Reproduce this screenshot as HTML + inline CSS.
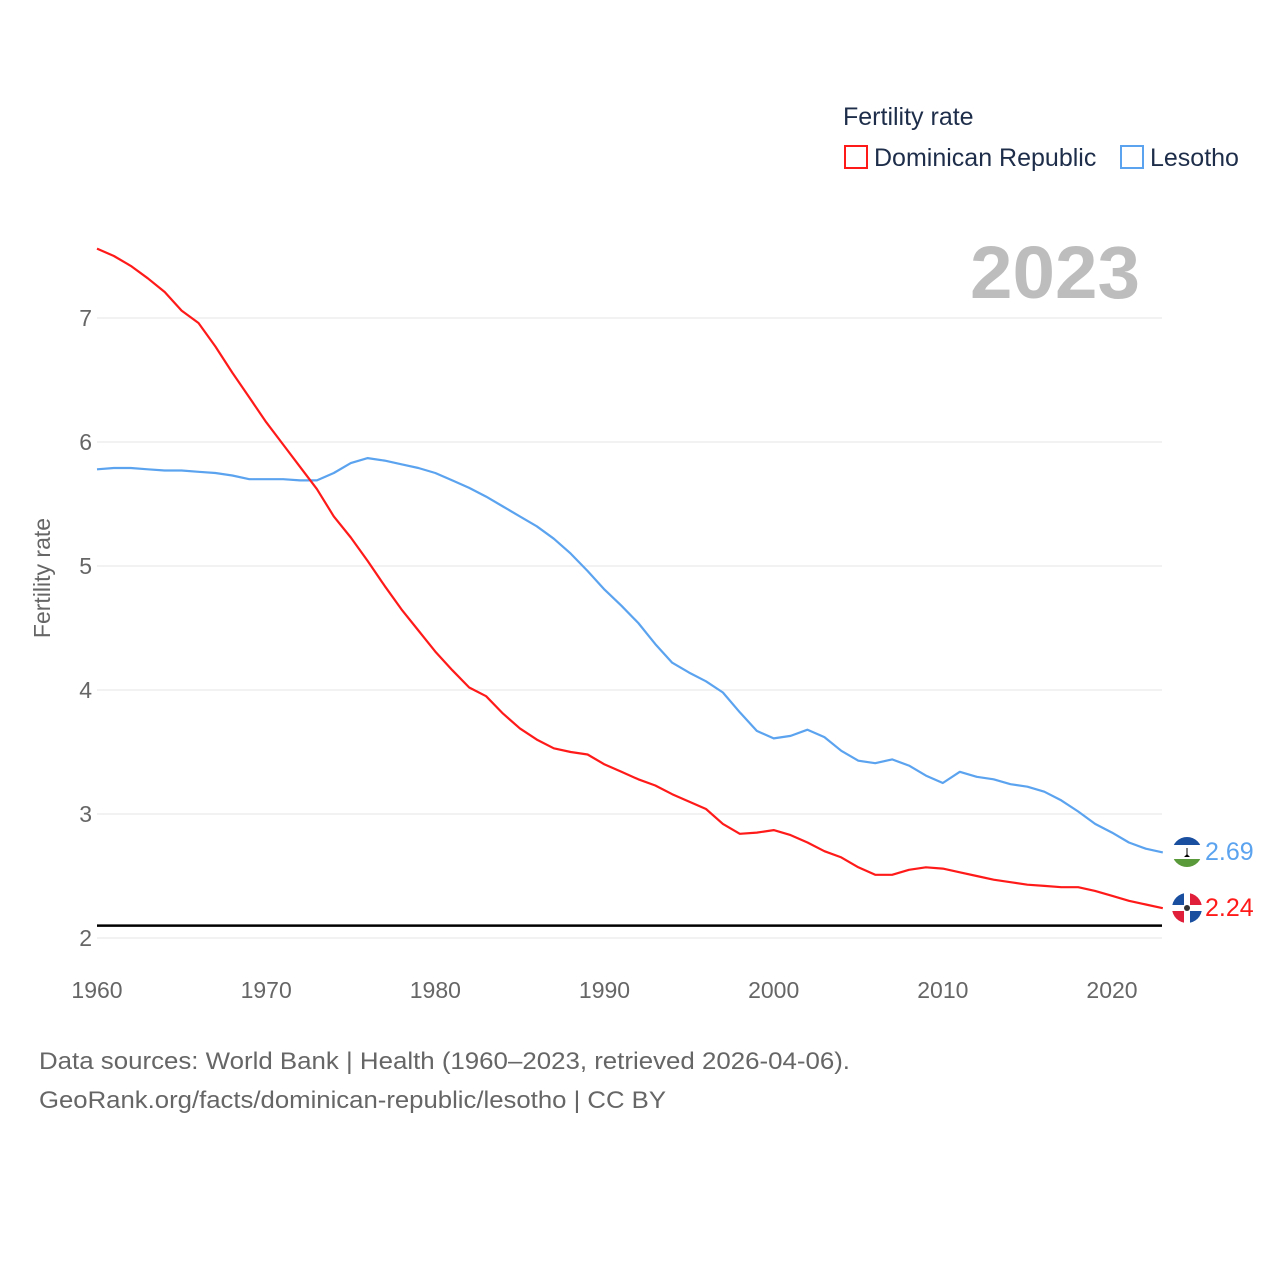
<!DOCTYPE html>
<html><head><meta charset="utf-8"><style>
body{margin:0;background:#fff;font-family:"Liberation Sans",sans-serif}
svg text{font-family:"Liberation Sans",sans-serif}
</style></head><body>
<svg width="1280" height="1280" viewBox="0 0 1280 1280">
<g id="grid"></g>
<g id="lines"></g>
<text x="970" y="298" textLength="170" lengthAdjust="spacingAndGlyphs" font-size="74" font-weight="bold" fill="#bdbdbd">2023</text>
<text x="843" y="125" font-size="25" fill="#1e2e4a">Fertility rate</text>
<g>
<rect x="845" y="146" width="22" height="22" fill="none" stroke="#ff1a1a" stroke-width="2"/>
<text x="874" y="166" font-size="25" fill="#1e2e4a">Dominican Republic</text></g>
<g>
<rect x="1121" y="146" width="22" height="22" fill="none" stroke="#5ba3ef" stroke-width="2"/>
<text x="1150" y="166" font-size="25" fill="#1e2e4a">Lesotho</text></g>
<text transform="translate(50,578) rotate(-90)" text-anchor="middle" font-size="23" fill="#666">Fertility rate</text>
<text x="39" y="1069" font-size="24" textLength="811" lengthAdjust="spacingAndGlyphs" fill="#666">Data sources: World Bank | Health (1960–2023, retrieved 2026-04-06).</text>
<text x="39" y="1108" font-size="24" textLength="627" lengthAdjust="spacingAndGlyphs" fill="#666">GeoRank.org/facts/dominican-republic/lesotho | CC BY</text>
<g>
<clipPath id="cl"><circle cx="1187" cy="852" r="15"/></clipPath>
<g clip-path="url(#cl)"><rect x="1170" y="835" width="34" height="10" fill="#1a4fa0"/><rect x="1170" y="845" width="34" height="14" fill="#fff"/><rect x="1170" y="859" width="34" height="12" fill="#5a9a3a"/><path d="M1184 857h6l-3-3z M1186.5 848v8h1v-8z" fill="#000"/></g></g>
<g>
<clipPath id="cd"><circle cx="1187" cy="908" r="15"/></clipPath>
<g clip-path="url(#cd)"><rect x="1170" y="891" width="34" height="34" fill="#fff"/><rect x="1170" y="891" width="14" height="14" fill="#1a4fa0"/><rect x="1190" y="891" width="14" height="14" fill="#e0203a"/><rect x="1170" y="911" width="14" height="14" fill="#e0203a"/><rect x="1190" y="911" width="14" height="14" fill="#1a4fa0"/><circle cx="1187" cy="908" r="3" fill="#333"/></g></g>
<text id="lblL" x="1205" y="860" font-size="25" fill="#5ba3ef"></text>
<text id="lblD" x="1205" y="916" font-size="25" fill="#ff1a1a"></text>
</svg>
<script>
const years=[];for(let y=1960;y<=2023;y++)years.push(y);
const yTicks=[2,3,4,5,6,7];
const xTicks=[1960,1970,1980,1990,2000,2010,2020];
const replacementRate=2.1;
const dominican=[7.56,7.50,7.42,7.32,7.21,7.06,6.96,6.77,6.56,6.36,6.16,5.98,5.80,5.62,5.40,5.23,5.04,4.84,4.65,4.48,4.31,4.16,4.02,3.95,3.81,3.69,3.60,3.53,3.50,3.48,3.40,3.34,3.28,3.23,3.16,3.10,3.04,2.92,2.84,2.85,2.87,2.83,2.77,2.70,2.65,2.57,2.51,2.51,2.55,2.57,2.56,2.53,2.50,2.47,2.45,2.43,2.42,2.41,2.41,2.38,2.34,2.30,2.27,2.24];
const lesotho=[5.78,5.79,5.79,5.78,5.77,5.77,5.76,5.75,5.73,5.70,5.70,5.70,5.69,5.69,5.75,5.83,5.87,5.85,5.82,5.79,5.75,5.69,5.63,5.56,5.48,5.40,5.32,5.22,5.10,4.96,4.81,4.68,4.54,4.37,4.22,4.14,4.07,3.98,3.82,3.67,3.61,3.63,3.68,3.62,3.51,3.43,3.41,3.44,3.39,3.31,3.25,3.34,3.30,3.28,3.24,3.22,3.18,3.11,3.02,2.92,2.85,2.77,2.72,2.69];
const X=y=>97+(y-1960)*(1015/60);
const Y=v=>938-(v-2)*124;
const NS='http://www.w3.org/2000/svg';
const grid=document.getElementById('grid'),lines=document.getElementById('lines');
function mk(tag,attrs,parent){const e=document.createElementNS(NS,tag);for(const k in attrs)e.setAttribute(k,attrs[k]);parent.appendChild(e);return e;}
yTicks.forEach(t=>{
 const l=mk('line',{x1:97,x2:1162,y1:Y(t),y2:Y(t),stroke:'#e6e6e6','stroke-width':1},grid);
 
 
 const tx=mk('text',{x:92,y:Y(t)+8,'text-anchor':'end','font-size':23,fill:'#666'},grid);tx.textContent=t;
 
 
});
xTicks.forEach(t=>{
 const tx=mk('text',{x:X(t),y:998,'text-anchor':'middle','font-size':23,fill:'#666'},grid);tx.textContent=t;
 
 
});
const rl=mk('line',{x1:97,x2:1162,y1:Y(replacementRate),y2:Y(replacementRate),stroke:'#000','stroke-width':2.5},lines);


function series(vals,color,name){
 const d=vals.map((v,i)=>(i?'L':'M')+X(years[i]).toFixed(1)+' '+Y(v).toFixed(1)).join(' ');
 const p=mk('path',{d:d,fill:'none',stroke:color,'stroke-width':2.2,'stroke-linejoin':'round'},lines);
 
 
}
series(lesotho,'#5ba3ef','lesotho-line');
series(dominican,'#ff1a1a','dominican-republic-line');
document.getElementById('lblL').textContent=lesotho[lesotho.length-1].toFixed(2);
document.getElementById('lblD').textContent=dominican[dominican.length-1].toFixed(2);
</script>
</body></html>
